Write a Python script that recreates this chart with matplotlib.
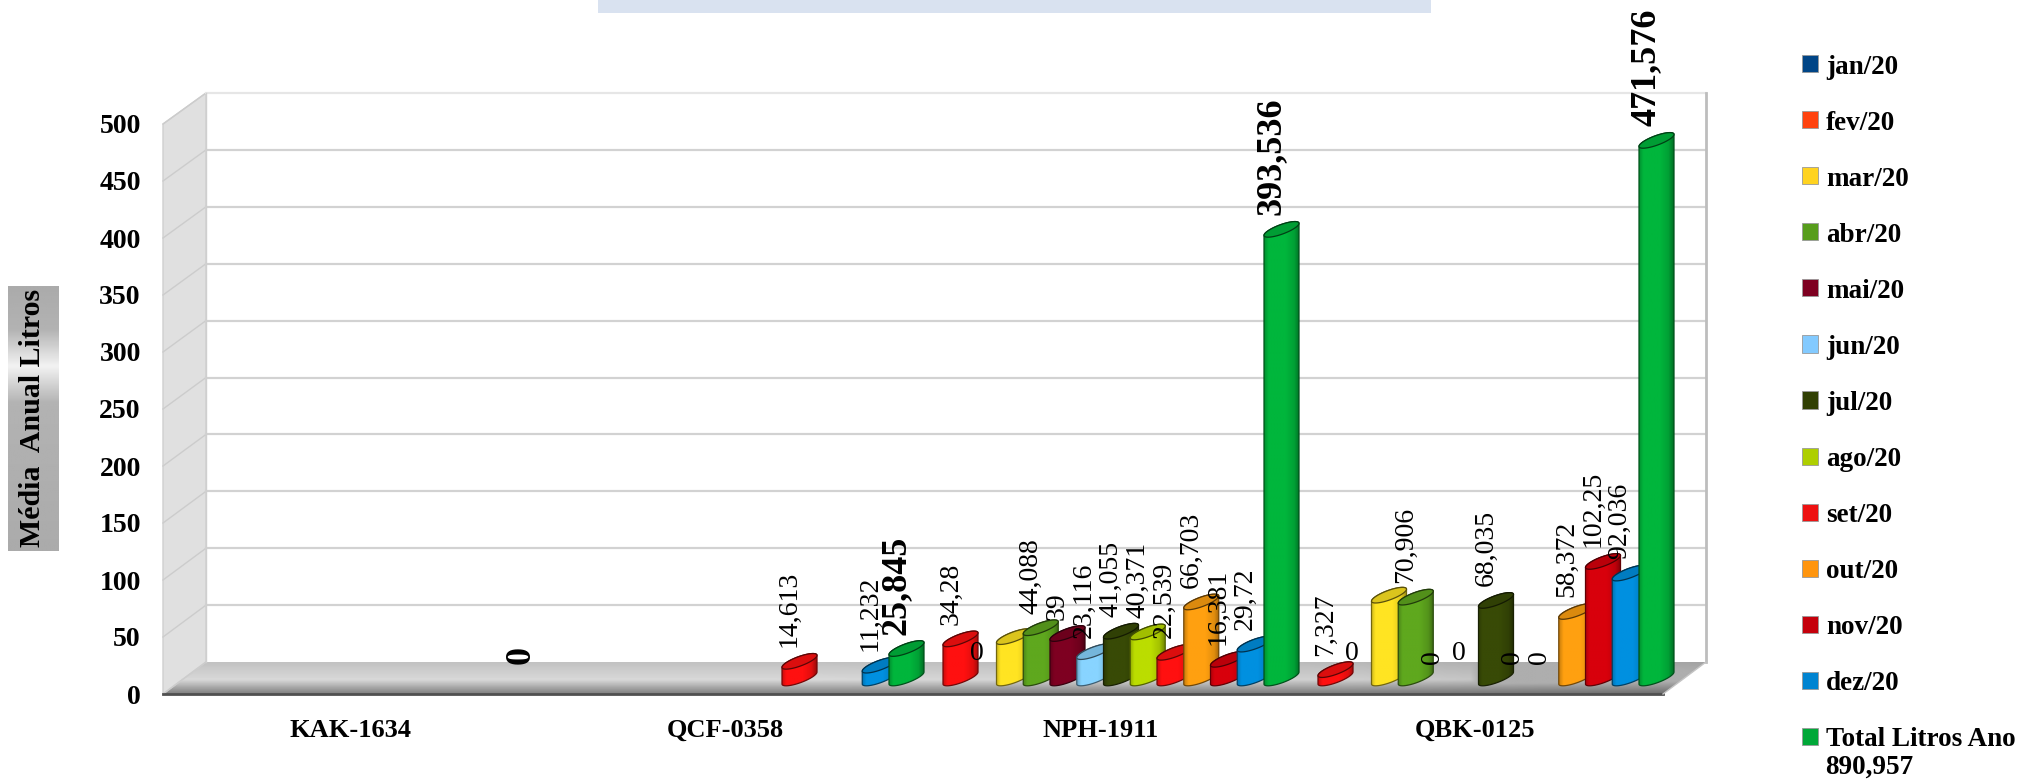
import numpy as np
import matplotlib
matplotlib.use("Agg")
import matplotlib.pyplot as plt
from matplotlib.colors import to_rgb
from matplotlib.patches import Patch, Polygon

plt.rcParams["font.family"] = ["Liberation Serif", "DejaVu Serif"]

# --- data ---
CATEGORIES = ["KAK-1634", "QCF-0358", "NPH-1911", "QBK-0125"]
SERIES = ["jan/20", "fev/20", "mar/20", "abr/20", "mai/20", "jun/20", "jul/20",
          "ago/20", "set/20", "out/20", "nov/20", "dez/20", "Total Litros Ano"]
# None = no bar and no label in the reference
KAK_1634 = [None, None, None, None, None, None, None, None, None, None, None, None, 0]
QCF_0358 = [None, None, None, None, None, None, None, None, 14.613, None, None, 11.232, 25.845]
NPH_1911 = [34.28, 0, 36.283, 44.088, 39, 23.116, 41.055, 40.371, 22.539, 66.703, 16.381, 29.72, 393.536]
QBK_0125 = [7.327, 0, 72.65, 70.906, 0, 0, 68.035, 0, 0, 58.372, 102.25, 92.036, 471.576]
ALL_VALUES = [KAK_1634, QCF_0358, NPH_1911, QBK_0125]
Y_TICKS = [0, 50, 100, 150, 200, 250, 300, 350, 400, 450, 500]
LEGEND_COLORS = ["#004586", "#ff420e", "#ffd320", "#579d1c", "#7e0021", "#83caff", "#314004",
                 "#aecf00", "#ee1111", "#ff950e", "#c5000b", "#0084d1", "#00a838"]
# the jan bars are drawn red in the reference, not in their legend colour
BAR_COLORS = ["#ff1010", "#ff420e", "#ffe422", "#5fa81e", "#7e0021", "#88d4ff", "#384a06",
              "#bbdd00", "#ff1010", "#ffa010", "#d8000c", "#0090e0", "#00b63c"]
TOTAL_NOTE = "890,957"
UPRIGHT_ZEROS = {(2, 1), (3, 1), (3, 5)}  # (category, series) whose 0 label is not rotated
NO_LABEL_SERIES = {"mar/20"}

FS = 20
LEGEND_FS = 19.5
W, H = 2018, 779
X0, X1, Y0, Y500 = 163, 1663, 694, 124  # front plane, pixels
DEPTH_X, DEPTH_Y = 43, 32
PX_X = 4 / (X1 - X0)
PX_Y = 500 / (Y0 - Y500)
BAR_A, BAR_B, BAR_K = 17.5, 5, 6  # ellipse half width, minor half height, tilt (px)
BASE = 16 * PX_Y
FIRST = 30 * PX_X + BAR_A * PX_X
PITCH = 26.75 * PX_X


def shade(color, f):
    return np.clip(np.array(to_rgb(color)) * f, 0, 1)


def ellipse(cx, y, t):
    return (cx + BAR_A * np.cos(t) * PX_X,
            y + (BAR_B * np.sin(t) + BAR_K * np.cos(t)) * PX_Y)


def draw_bar(ax, cx, value, color, z):
    top = BASE + value
    xb, yb = ellipse(cx, BASE, np.linspace(np.pi, 2 * np.pi, 40))
    xt, yt = ellipse(cx, top, np.linspace(0, np.pi, 40))
    outline = np.column_stack([np.r_[xb, xt], np.r_[yb, yt]])
    clip = Polygon(outline, closed=True, transform=ax.transData, facecolor="none",
                   edgecolor=shade(color, 0.45), linewidth=0.9, zorder=z + 0.2, clip_on=False)
    ax.add_patch(clip)
    clip.set_clip_on(False)

    stops = np.array([0, 0.12, 0.6, 0.85, 1])
    factors = np.array([0.8, 1.0, 1.0, 0.88, 0.62])
    u = np.linspace(0, 1, 48)
    grad = np.outer(np.interp(u, stops, factors), to_rgb(color)).clip(0, 1)[None, :, :]
    im = ax.imshow(grad, extent=(cx - BAR_A * PX_X, cx + BAR_A * PX_X, 0, top + 12 * PX_Y),
                   aspect="auto", interpolation="bilinear", zorder=z)
    # the last bar sticks out past the front plane, so keep only the polygon clip
    im.set_clip_path(clip)
    im.set_clip_box(fig.bbox)

    xe, ye = ellipse(cx, top, np.linspace(0, 2 * np.pi, 80))
    ax.fill(xe, ye, facecolor=shade(color, 0.86), edgecolor=shade(color, 0.35),
            linewidth=0.9, zorder=z + 0.3, clip_on=False)


fig = plt.figure(figsize=(W / 100, H / 100), dpi=100)

# background: banner, walls, floor, axis title box (pixel coordinates)
bg = fig.add_axes([0, 0, 1, 1], zorder=0)
bg.set_xlim(0, W)
bg.set_ylim(H, 0)
bg.axis("off")

bg.fill([598, 1431, 1431, 598], [0, 0, 13, 13], color="#d9e2f0", lw=0)

BX0, BX1 = X0 + DEPTH_X, X1 + DEPTH_X
BY0, BY500 = Y0 - DEPTH_Y, Y500 - DEPTH_Y + 1
bg.fill([X0, BX0, BX0, X0], [Y500, BY500, BY0, Y0], facecolor="#e0e0e0", edgecolor="#cfcfcf", lw=1)
for v in Y_TICKS:
    fy = Y0 - v * (Y0 - Y500) / 500
    by = BY0 - v * (BY0 - BY500) / 500
    bg.plot([X0, BX0], [fy, by], color="#cccccc", lw=1)
    if v > 0:
        bg.plot([BX0, BX1], [by, by], color="#d2d2d2" if v < 500 else "#e6e6e6", lw=1.6)
bg.plot([BX0, BX0], [BY500, BY0], color="#cfcfcf", lw=1)
bg.plot([BX1, BX1], [BY500, BY0], color="#bdbdbd", lw=2)

floor = Polygon([(X0, Y0), (BX0, BY0), (BX1, BY0), (X1, Y0)], closed=True, transform=bg.transData,
                facecolor="none", edgecolor="none")
bg.add_patch(floor)
vert = np.interp(np.linspace(0, 1, 40), [0, 0.55, 1], [0.76, 0.85, 0.5])
horiz = np.interp(np.linspace(0, 1, 200), [0, 0.4, 0.75, 1], [1.0, 1.0, 0.96, 0.84])
tex = np.clip(np.outer(vert, horiz), 0, 1)
tex = np.where(np.outer(np.ones(40), np.linspace(0, 1, 200)) > 0.85, np.minimum(tex, 0.68), tex)
im = bg.imshow(tex, cmap="gray", vmin=0, vmax=1, extent=(X0, BX1, Y0, BY0), aspect="auto",
               interpolation="bilinear")
im.set_clip_path(floor)
bg.set_xlim(0, W)
bg.set_ylim(H, 0)
bg.plot([X0, X1], [Y0, Y0], color="#505050", lw=2)
bg.plot([X1, BX1], [Y0, BY0], color="#c4c4c4", lw=1)

box = np.interp(np.linspace(0, 1, 120), [0, 0.16, 0.3, 0.44, 1], [0.67, 0.70, 0.95, 0.70, 0.67])
bg.imshow(box[:, None], cmap="gray", vmin=0, vmax=1, extent=(8, 59, 551, 286), aspect="auto",
          interpolation="bilinear")
bg.set_xlim(0, W)
bg.set_ylim(H, 0)
bg.text(33, 418, "Média  Anual Litros", rotation=90, ha="center", va="center",
        fontsize=21.5, fontweight="bold", color="black")
bg.text(1825, 767, TOTAL_NOTE, ha="left", va="center", fontsize=LEGEND_FS, fontweight="bold")

# front plane: bars and their labels
ax = fig.add_axes([X0 / W, 1 - Y0 / H, (X1 - X0) / W, (Y0 - Y500) / H], zorder=1)
ax.patch.set_visible(False)
for s in ax.spines.values():
    s.set_visible(False)

for c, values in enumerate(ALL_VALUES):
    for j, v in enumerate(values):
        if v is None:
            continue
        cx = c + FIRST + j * PITCH
        z = 3 + c * 20 + j
        if v > 0:
            draw_bar(ax, cx, v, BAR_COLORS[j], z)
        if SERIES[j] in NO_LABEL_SERIES:
            continue
        is_total = j == len(SERIES) - 1
        txt = f"{v:.3f}".rstrip("0").rstrip(".").replace(".", ",")
        xy = (cx - 10 * PX_X, BASE + v)
        if (c, j) in UPRIGHT_ZEROS:
            ax.annotate(txt, xy, xytext=(0, 25), textcoords="offset pixels", ha="center", va="center",
                        fontsize=20, zorder=100, annotation_clip=False)
        else:
            ax.annotate(txt, xy, xytext=(0, 14), textcoords="offset pixels", ha="center", va="bottom",
                        rotation=90, fontsize=26 if is_total else 20,
                        fontweight="bold" if is_total else "normal", zorder=100, annotation_clip=False)

ax.set_xlim(0, 4)
ax.set_ylim(0, 500)
ax.set_xticks(np.arange(len(CATEGORIES)) + 0.5, CATEGORIES, fontsize=19, fontweight="bold")
ax.set_yticks(Y_TICKS, [str(v) for v in Y_TICKS], fontsize=FS, fontweight="bold")
ax.tick_params(axis="x", length=0, pad=18)
ax.tick_params(axis="y", length=0, pad=16)

handles = [Patch(facecolor=col, edgecolor="#999999", linewidth=0.6, label=name)
           for col, name in zip(LEGEND_COLORS, SERIES)]
fig.legend(handles=handles, loc="upper left", bbox_to_anchor=(1802 / W, 1 - 54.5 / H), frameon=False,
           borderpad=0, borderaxespad=0, handlelength=0.59, handleheight=0.59,
           handletextpad=0.3, labelspacing=1.145, prop={"weight": "bold", "size": LEGEND_FS})

fig.savefig("out.png", dpi=100)
